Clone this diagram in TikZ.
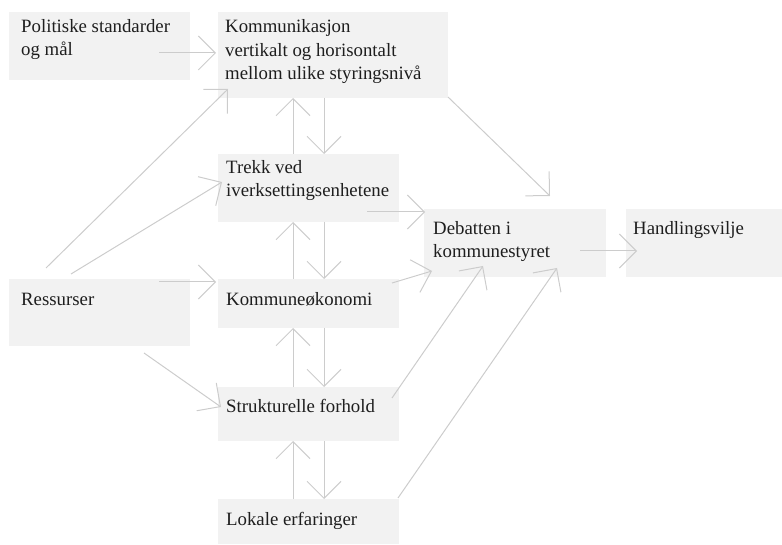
\documentclass[tikz,border=0pt]{standalone}
\usepackage{fontspec}
\setmainfont{Liberation Serif}
\usetikzlibrary{arrows.meta}
\definecolor{boxfill}{HTML}{F2F2F2}
\definecolor{linegray}{HTML}{CCCCCC}
\definecolor{txtgray}{HTML}{1E1E1E}
\tikzset{
  box/.style={fill=boxfill, draw=none, rectangle, anchor=north west, inner sep=0pt},
  txt/.style={anchor=base west, inner sep=0pt, text=txtgray, font=\fontsize{18.8}{23.5}\selectfont, align=left},
  conn/.style={draw=linegray, line width=1pt, -{Straight Barb[length=17pt,width=34pt,line width=1pt]}},
}
\begin{document}
\begin{tikzpicture}[x=1pt,y=-1pt]
\useasboundingbox (0,0) rectangle (782,545);
% boxes
\node[box, minimum width=181pt, minimum height=68pt] (pol) at (9,12) {};
\node[box, minimum width=230pt, minimum height=86pt] (kom) at (218,12) {};
\node[box, minimum width=181pt, minimum height=68pt] (tre) at (218,154) {};
\node[box, minimum width=181pt, minimum height=67pt] (res) at (9,279) {};
\node[box, minimum width=181pt, minimum height=49pt] (oko) at (218,279) {};
\node[box, minimum width=181pt, minimum height=54pt] (str) at (218,387) {};
\node[box, minimum width=181pt, minimum height=45pt] (lok) at (218,499) {};
\node[box, minimum width=182pt, minimum height=68pt] (deb) at (424,209) {};
\node[box, minimum width=156pt, minimum height=68pt] (han) at (626,209) {};
% texts (multi-line texts placed by the baseline of their last line)
\node[txt] (polt) at (21,56) {Politiske standarder\\og mål};
\node[txt] (komt) at (225,80) {Kommunikasjon\\vertikalt og horisontalt\\mellom ulike styringsnivå};
\node[txt] (tret) at (226,197) {Trekk ved\\iverksettingsenhetene};
\node[txt] (rest) at (21,306) {Ressurser};
\node[txt] (okot) at (226,306) {Kommuneøkonomi};
\node[txt] (strt) at (226,412) {Strukturelle forhold};
\node[txt] (lokt) at (226,525) {Lokale erfaringer};
\node[txt] (debt) at (433,258) {Debatten i\\kommunestyret};
\node[txt] (hant) at (633,235) {Handlingsvilje};
% connector endpoints
\coordinate (p1) at (159,53);   \coordinate (k1) at (216,53);
\coordinate (r1) at (46,268);   \coordinate (k2) at (228,89);
\coordinate (r2) at (71,274);   \coordinate (t1) at (222,182);
\coordinate (r3) at (159,282);  \coordinate (o1) at (216,282);
\coordinate (r4) at (144,353);  \coordinate (s1) at (221,407);
% vertical pairs
\coordinate (tu) at (293,154);  \coordinate (ku) at (293,98);
\coordinate (kd) at (324,98);   \coordinate (td) at (324,154);
\coordinate (ou) at (293,279);  \coordinate (tu2) at (293,222);
\coordinate (td2) at (324,222); \coordinate (od) at (324,279);
\coordinate (su) at (293,387);  \coordinate (ou2) at (293,328);
\coordinate (od2) at (324,328); \coordinate (sd) at (324,387);
\coordinate (lu) at (293,499);  \coordinate (su2) at (293,441);
\coordinate (sd2) at (324,441); \coordinate (ld) at (324,499);
% to debatten
\coordinate (k3) at (448,97);   \coordinate (d1) at (550,196);
\coordinate (t2) at (367,212);  \coordinate (d2) at (425,212);
\coordinate (o2) at (392,283);  \coordinate (d3) at (432,271);
\coordinate (s2) at (392,398);  \coordinate (d4) at (483,266);
\coordinate (l2) at (398,498);  \coordinate (d5) at (557,268);
\coordinate (d6) at (580,251);  \coordinate (h1) at (637,251);
% connectors
\draw[conn] (p1) -- (k1);
\draw[conn] (r1) -- (k2);
\draw[conn] (r2) -- (t1);
\draw[conn] (r3) -- (o1);
\draw[conn] (r4) -- (s1);
\draw[conn] (tu) -- (ku);
\draw[conn] (kd) -- (td);
\draw[conn] (ou) -- (tu2);
\draw[conn] (td2) -- (od);
\draw[conn] (su) -- (ou2);
\draw[conn] (od2) -- (sd);
\draw[conn] (lu) -- (su2);
\draw[conn] (sd2) -- (ld);
\draw[conn] (k3) -- (d1);
\draw[conn] (t2) -- (d2);
\draw[conn] (o2) -- (d3);
\draw[conn] (s2) -- (d4);
\draw[conn] (l2) -- (d5);
\draw[conn] (d6) -- (h1);
\end{tikzpicture}
\end{document}
